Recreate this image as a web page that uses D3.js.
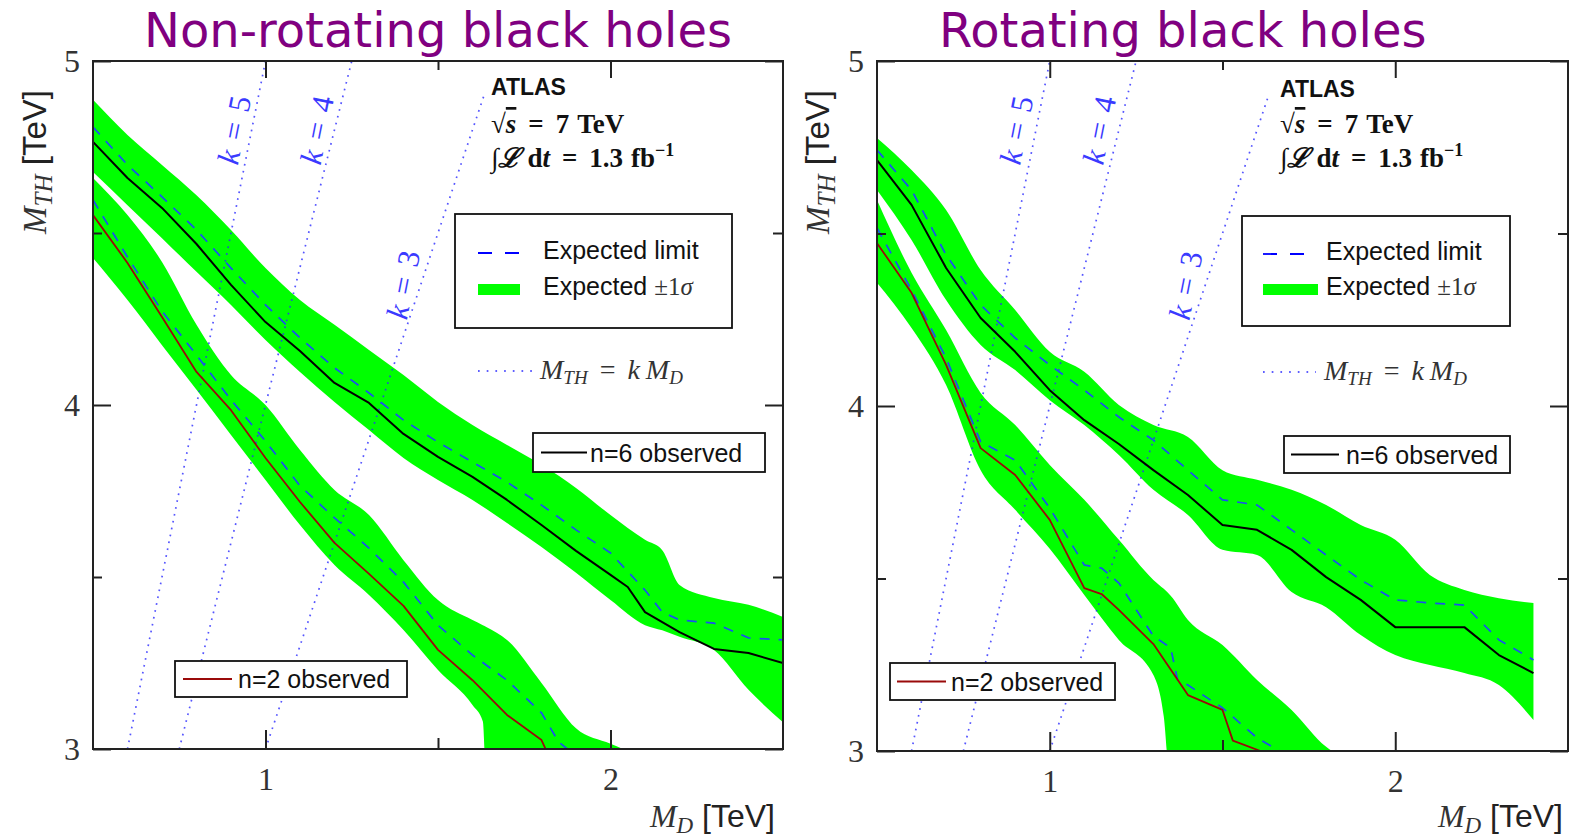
<!DOCTYPE html>
<html><head><meta charset="utf-8">
<script src="https://cdn.jsdelivr.net/npm/d3@7"></script>
<style>body{margin:0;background:#fff} svg{display:block}</style>
</head><body>
<svg id="c" width="1576" height="837"></svg>
<script>
// ---------------- DATA ----------------
const mdMajorTicks = [1, 2];
const mdMinorTicks = [1.5];
const mthMajorTicks = [3, 4, 5];
const mthMinorTicks = [3.5, 4.5];
const kSlopes = [5, 4, 3];
const kLineTop = [5, 5, 4.9];
const kLabelAt = [4.8, 4.8, 4.35];

// Non-rotating black holes  [MD, lo, hi] / [MD, MTH]
const nonrotN6Band = [[0.5,4.677,4.887],[0.6,4.581,4.785],[0.7,4.485,4.698],[0.8,4.387,4.610],[0.9,4.291,4.509],[1.0,4.189,4.398],[1.1,4.096,4.305],[1.2,4.009,4.233],[1.3,3.927,4.160],[1.4,3.846,4.087],[1.5,3.782,4.009],[1.6,3.724,3.942],[1.7,3.657,3.884],[1.8,3.587,3.826],[1.9,3.512,3.759],[2.0,3.433,3.680],[2.1,3.360,3.608],[2.15,3.345,3.578],[2.2,3.326,3.477],[2.3,3.288,3.439],[2.4,3.172,3.419],[2.5,3.078,3.384]];
const nonrotN6Exp = [[0.5,4.808],[0.6,4.698],[0.7,4.605],[0.8,4.509],[0.9,4.398],[1.0,4.291],[1.1,4.195],[1.2,4.108],[1.3,4.035],[1.4,3.956],[1.5,3.892],[1.6,3.834],[1.7,3.776],[1.8,3.709],[1.9,3.637],[2.0,3.570],[2.1,3.462],[2.15,3.398],[2.2,3.375],[2.3,3.366],[2.4,3.323],[2.5,3.317]];
const nonrotN6Obs = [[0.5,4.765],[0.6,4.660],[0.7,4.573],[0.8,4.468],[0.9,4.349],[1.0,4.241],[1.1,4.157],[1.2,4.064],[1.3,4.006],[1.4,3.916],[1.5,3.849],[1.6,3.791],[1.7,3.724],[1.8,3.651],[1.9,3.576],[2.0,3.506],[2.05,3.471],[2.1,3.398],[2.2,3.340],[2.3,3.291],[2.4,3.279],[2.5,3.250]];
const nonrotN2Band = [[0.5,4.427,4.660],[0.6,4.305,4.552],[0.7,4.174,4.416],[0.8,4.044,4.233],[0.9,3.913,4.087],[1.0,3.782,4.000],[1.1,3.651,3.869],[1.2,3.535,3.753],[1.3,3.448,3.680],[1.4,3.346,3.549],[1.5,3.230,3.433],[1.6,3.128,3.375],[1.63,3.080,3.360],[1.64,2.900,3.355],[1.7,2.900,3.317],[1.8,2.900,3.192],[1.9,2.900,3.060],[2.0,2.900,3.015],[2.06,2.900,2.990]];
const nonrotN2Exp = [[0.5,4.596],[0.6,4.430],[0.7,4.273],[0.8,4.145],[0.9,4.015],[1.0,3.895],[1.1,3.765],[1.2,3.672],[1.3,3.584],[1.4,3.485],[1.5,3.360],[1.6,3.273],[1.7,3.200],[1.8,3.105],[1.85,3.020],[1.9,2.980]];
const nonrotN2Obs = [[0.5,4.552],[0.6,4.413],[0.7,4.256],[0.8,4.096],[0.9,3.985],[1.0,3.846],[1.1,3.718],[1.2,3.599],[1.3,3.509],[1.4,3.416],[1.5,3.288],[1.6,3.200],[1.7,3.099],[1.8,3.026],[1.83,2.960]];

// Rotating black holes
const rotN6Band = [[0.5,4.626,4.777],[0.6,4.481,4.684],[0.7,4.307,4.568],[0.8,4.177,4.394],[0.9,4.104,4.278],[1.0,4.017,4.157],[1.1,3.945,4.099],[1.2,3.858,4.003],[1.3,3.757,3.945],[1.4,3.684,3.910],[1.5,3.583,3.814],[1.6,3.568,3.786],[1.7,3.461,3.757],[1.8,3.417,3.713],[1.9,3.336,3.655],[2.0,3.278,3.612],[2.1,3.249,3.510],[2.2,3.226,3.467],[2.3,3.191,3.443],[2.4,3.090,3.429]];
const rotN6Exp = [[0.5,4.742],[0.6,4.626],[0.7,4.438],[0.8,4.293],[0.9,4.197],[1.0,4.119],[1.1,4.046],[1.2,3.968],[1.3,3.901],[1.4,3.814],[1.5,3.728],[1.6,3.713],[1.7,3.641],[1.8,3.568],[1.9,3.496],[2.0,3.438],[2.1,3.429],[2.2,3.423],[2.3,3.322],[2.4,3.264]];
const rotN6Obs = [[0.5,4.713],[0.6,4.583],[0.7,4.400],[0.8,4.255],[0.9,4.157],[1.0,4.046],[1.1,3.959],[1.2,3.890],[1.3,3.814],[1.4,3.742],[1.5,3.655],[1.6,3.641],[1.7,3.583],[1.8,3.504],[1.9,3.438],[2.0,3.359],[2.1,3.359],[2.2,3.359],[2.3,3.278],[2.4,3.226]];
const rotN2Band = [[0.5,4.357,4.597],[0.6,4.226,4.386],[0.7,4.061,4.220],[0.8,3.814,4.038],[0.9,3.699,3.945],[1.0,3.586,3.829],[1.1,3.452,3.728],[1.2,3.322,3.612],[1.3,3.220,3.496],[1.33,3.100,3.470],[1.35,2.900,3.450],[1.4,2.900,3.380],[1.5,2.900,3.307],[1.6,2.900,3.206],[1.7,2.900,3.119],[1.8,2.900,3.012],[1.85,2.900,2.980]];
const rotN2Exp = [[0.5,4.516],[0.6,4.336],[0.7,4.139],[0.8,3.896],[0.9,3.843],[1.0,3.704],[1.1,3.539],[1.15,3.530],[1.2,3.487],[1.3,3.333],[1.35,3.299],[1.37,3.206],[1.4,3.191],[1.5,3.125],[1.6,3.038],[1.65,3.009],[1.7,2.980]];
const rotN2Obs = [[0.5,4.472],[0.6,4.328],[0.7,4.119],[0.8,3.878],[0.9,3.800],[1.0,3.670],[1.1,3.472],[1.15,3.455],[1.2,3.409],[1.3,3.310],[1.4,3.162],[1.5,3.119],[1.53,3.030],[1.61,3.000],[1.65,2.980]];

// ---------------- STYLE ----------------
const GREEN = "#00ff00", BLUE = "#1a50f0", RED = "#9a0a0a", BLACK = "#000";
const SERIF = "'Liberation Serif','DejaVu Serif',serif";
const SANS = "'Liberation Sans',Arial,sans-serif";
const svg = d3.select("#c");
svg.append("rect").attr("width",1576).attr("height",837).attr("fill","#fff");

const panels = [
  { id:"L", title:"Non-rotating black holes", titleX:438, titleAnchor:"middle",
    left:93, right:783, top:61, bottom:749,
    bands:[nonrotN6Band, nonrotN2Band], exps:[nonrotN6Exp, nonrotN2Exp], obs:[nonrotN6Obs, nonrotN2Obs],
    atlasX:491, atlasY:[95,133,167],
    leg:{x:455,y:214,w:277,h:114, sx0:478, sx1:520, gw:42, tx:543, y1:253, y2:290, dotX1:532, dotY:371, dotTx:540, dotTy:379},
    n6:{x:533,y:433,w:232,h:39, lx0:541, lx1:587, tx:590},
    n2:{x:175,y:661,w:232,h:36, lx0:183, lx1:232, tx:238},
    yLabX:46, xLabX:775, kOff:-18 },
  { id:"R", title:"Rotating black holes", titleX:939, titleAnchor:"start",
    left:877, right:1568, top:61, bottom:751,
    bands:[rotN6Band, rotN2Band], exps:[rotN6Exp, rotN2Exp], obs:[rotN6Obs, rotN2Obs],
    atlasX:1280, atlasY:[97,133,167],
    leg:{x:1242,y:216,w:268,h:110, sx0:1263, sx1:1305, gw:55, tx:1326, y1:254, y2:290, dotX1:1316, dotY:372, dotTx:1324, dotTy:380},
    n6:{x:1284,y:436,w:226,h:37, lx0:1291, lx1:1339, tx:1346},
    n2:{x:890,y:663,w:225,h:37, lx0:897, lx1:946, tx:951},
    yLabX:829, xLabX:1563, kOff:-20 }
];

panels.forEach(p=>{
  const x = d3.scaleLinear().domain([0.5,2.5]).range([p.left,p.right]);
  const y = d3.scaleLinear().domain([3,5]).range([p.bottom,p.top]);
  const g = svg.append("g");
  const clipId = "clip"+p.id;
  svg.append("clipPath").attr("id",clipId).append("rect")
    .attr("x",p.left).attr("y",p.top).attr("width",p.right-p.left).attr("height",p.bottom-p.top);
  const data = g.append("g").attr("clip-path",`url(#${clipId})`);
  const area = d3.area().x(d=>x(d[0])).y0(d=>y(d[1])).y1(d=>y(d[2])).curve(d3.curveMonotoneX);
  const line = d3.line().x(d=>x(d[0])).y(d=>y(d[1]));

  p.bands.forEach(b=>data.append("path").attr("d",area(b)).attr("fill",GREEN));

  // k lines
  kSlopes.forEach((k,i)=>{
    const pts = [[3/k,3],[kLineTop[i]/k,kLineTop[i]]];
    data.append("path").attr("d",line(pts)).attr("fill","none")
      .attr("stroke","#2a2aff").attr("stroke-width",1.7).attr("stroke-opacity",0.8)
      .attr("stroke-dasharray","1.7,5.3");
  });

  p.exps.forEach(e=>data.append("path").attr("d",line(e)).attr("fill","none")
      .attr("stroke",BLUE).attr("stroke-width",1.7).attr("stroke-dasharray","10,9"));
  p.obs.forEach((o,i)=>data.append("path").attr("d",line(o)).attr("fill","none")
      .attr("stroke", i===0?BLACK:RED).attr("stroke-width", i===0?2:1.8).attr("stroke-linejoin","round"));

  // k labels
  const ang = Math.atan2(y(5)-y(3), x(1)-x(0.6))*180/Math.PI;
  kSlopes.forEach((k,i)=>{
    const m = kLabelAt[i];
    const cx = x(m/k)+p.kOff, cy = y(m);
    const t = g.append("text").attr("transform",`translate(${cx},${cy}) rotate(${ang})`)
      .attr("text-anchor","middle").attr("dominant-baseline","central")
      .attr("font-family",SERIF).attr("font-size",31).attr("fill","#3a3aff");
    t.append("tspan").attr("font-style","italic").text("k");
    t.append("tspan").attr("dx",11).text("=");
    t.append("tspan").attr("dx",11).text(k);
  });

  // frame
  g.append("rect").attr("x",p.left).attr("y",p.top).attr("width",p.right-p.left).attr("height",p.bottom-p.top)
    .attr("fill","none").attr("stroke","#222").attr("stroke-width",2);

  const styleAxis = a=>{ a.select(".domain").remove(); a.selectAll(".tick line").attr("stroke","#222").attr("stroke-width",2);
    a.selectAll("text").attr("font-family",SERIF).attr("font-size",32).attr("fill","#333"); };
  g.append("g").attr("transform",`translate(0,${p.bottom})`)
    .call(d3.axisBottom(x).tickValues(mdMajorTicks).tickSize(-19).tickPadding(18).tickFormat(d3.format("d"))).call(styleAxis);
  g.append("g").attr("transform",`translate(0,${p.bottom})`)
    .call(d3.axisBottom(x).tickValues(mdMinorTicks).tickSize(-11).tickFormat("")).call(styleAxis);
  g.append("g").attr("transform",`translate(0,${p.top})`)
    .call(d3.axisTop(x).tickValues(mdMajorTicks).tickSize(-17).tickFormat("")).call(styleAxis);
  g.append("g").attr("transform",`translate(0,${p.top})`)
    .call(d3.axisTop(x).tickValues(mdMinorTicks).tickSize(-9).tickFormat("")).call(styleAxis);
  g.append("g").attr("transform",`translate(${p.left},0)`)
    .call(d3.axisLeft(y).tickValues(mthMajorTicks).tickSize(-18).tickPadding(13).tickFormat(d3.format("d"))).call(styleAxis);
  g.append("g").attr("transform",`translate(${p.left},0)`)
    .call(d3.axisLeft(y).tickValues(mthMinorTicks).tickSize(-9).tickFormat("")).call(styleAxis);
  g.append("g").attr("transform",`translate(${p.right},0)`)
    .call(d3.axisRight(y).tickValues(mthMajorTicks).tickSize(-18).tickFormat("")).call(styleAxis);
  g.append("g").attr("transform",`translate(${p.right},0)`)
    .call(d3.axisRight(y).tickValues(mthMinorTicks).tickSize(-10).tickFormat("")).call(styleAxis);

  // title
  g.append("text").attr("x",p.titleX).attr("y",47).attr("text-anchor",p.titleAnchor)
    .attr("font-family","'DejaVu Sans',Verdana,sans-serif").attr("font-size",48).attr("fill","#800080").text(p.title);

  // axis labels
  const xl = g.append("text").attr("x",p.xLabX).attr("y",827).attr("text-anchor","end")
    .attr("font-family",SANS).attr("font-size",32).attr("fill","#222");
  xl.append("tspan").attr("font-family",SERIF).attr("font-style","italic").attr("fill","#333").text("M");
  xl.append("tspan").attr("font-family",SERIF).attr("font-style","italic").attr("font-size",23).attr("dy",6).attr("fill","#333").text("D");
  xl.append("tspan").attr("dy",-6).text(" [TeV]");
  const yl = g.append("text").attr("transform",`translate(${p.yLabX},162) rotate(-90)`).attr("text-anchor","middle")
    .attr("font-family",SANS).attr("font-size",33).attr("fill","#222");
  yl.append("tspan").attr("font-family",SERIF).attr("font-style","italic").attr("fill","#333").text("M");
  yl.append("tspan").attr("font-family",SERIF).attr("font-style","italic").attr("font-size",25).attr("dy",6).attr("fill","#333").text("TH");
  yl.append("tspan").attr("dy",-6).text(" [TeV]");

  // ATLAS block
  g.append("text").attr("x",p.atlasX).attr("y",p.atlasY[0]).attr("font-family",SANS).attr("font-weight","bold")
    .attr("font-size",23).attr("fill","#111").text("ATLAS");
  const s1 = g.append("text").attr("x",p.atlasX).attr("y",p.atlasY[1]).attr("font-family",SERIF).attr("font-weight","bold")
    .attr("font-size",27).attr("fill","#111");
  s1.append("tspan").text("√");
  s1.append("tspan").attr("font-style","italic").attr("text-decoration","overline").text("s");
  s1.append("tspan").attr("dx",12).text("=");
  s1.append("tspan").attr("dx",12).text("7");
  s1.append("tspan").attr("dx",8).text("TeV");
  const s2 = g.append("text").attr("x",p.atlasX).attr("y",p.atlasY[2]).attr("font-family",SERIF).attr("font-weight","bold")
    .attr("font-size",27).attr("fill","#111");
  s2.append("tspan").attr("font-weight","normal").text("∫");
  s2.append("tspan").attr("font-style","italic").text("ℒ");
  s2.append("tspan").attr("dx",7).text("d");
  s2.append("tspan").attr("font-style","italic").text("t");
  s2.append("tspan").attr("dx",12).text("=");
  s2.append("tspan").attr("dx",12).text("1.3");
  s2.append("tspan").attr("dx",8).text("fb");
  s2.append("tspan").attr("font-size",18).attr("dy",-11).text("−1");

  // main legend
  const L = p.leg;
  g.append("rect").attr("x",L.x).attr("y",L.y).attr("width",L.w).attr("height",L.h)
    .attr("fill","#fff").attr("stroke","#111").attr("stroke-width",1.8);
  g.append("line").attr("x1",L.sx0).attr("x2",L.sx1).attr("y1",L.y1).attr("y2",L.y1)
    .attr("stroke","#0000ff").attr("stroke-width",1.8).attr("stroke-dasharray","14,13");
  g.append("text").attr("x",L.tx).attr("y",L.y1+6).attr("font-family",SANS).attr("font-size",25).attr("fill","#111").text("Expected limit");
  g.append("rect").attr("x",L.sx0).attr("y",L.y2-6).attr("width",L.gw).attr("height",11).attr("fill",GREEN);
  const e2 = g.append("text").attr("x",L.tx).attr("y",L.y2+5).attr("font-family",SANS).attr("font-size",25).attr("fill","#111");
  e2.append("tspan").text("Expected ");
  e2.append("tspan").attr("font-family",SERIF).attr("fill","#333").text("±1");
  e2.append("tspan").attr("font-family",SERIF).attr("font-style","italic").attr("fill","#333").text("σ");
  g.append("line").attr("x1",L.sx0).attr("x2",L.dotX1).attr("y1",L.dotY).attr("y2",L.dotY)
    .attr("stroke","#2a2aff").attr("stroke-width",1.7).attr("stroke-dasharray","1.7,7");
  const e3 = g.append("text").attr("x",L.dotTx).attr("y",L.dotTy).attr("font-family",SERIF).attr("font-size",28).attr("fill","#333");
  e3.append("tspan").attr("font-style","italic").text("M");
  e3.append("tspan").attr("font-style","italic").attr("font-size",19).attr("dy",5).text("TH");
  e3.append("tspan").attr("dy",-5).attr("dx",12).text("=");
  e3.append("tspan").attr("font-style","italic").attr("dx",12).text("k");
  e3.append("tspan").attr("font-style","italic").attr("dx",6).text("M");
  e3.append("tspan").attr("font-style","italic").attr("font-size",19).attr("dy",5).text("D");

  // observed legends
  [[p.n6,"n=6 observed",BLACK,2],[p.n2,"n=2 observed",RED,1.8]].forEach(([b,lab,col,w])=>{
    g.append("rect").attr("x",b.x).attr("y",b.y).attr("width",b.w).attr("height",b.h)
      .attr("fill","#fff").attr("stroke","#111").attr("stroke-width",1.8);
    const cy = b.y + b.h/2;
    g.append("line").attr("x1",b.lx0).attr("x2",b.lx1).attr("y1",cy).attr("y2",cy).attr("stroke",col).attr("stroke-width",w);
    g.append("text").attr("x",b.tx).attr("y",cy+9).attr("font-family",SANS).attr("font-size",25).attr("fill","#111").text(lab);
  });
});
</script>
</body></html>
